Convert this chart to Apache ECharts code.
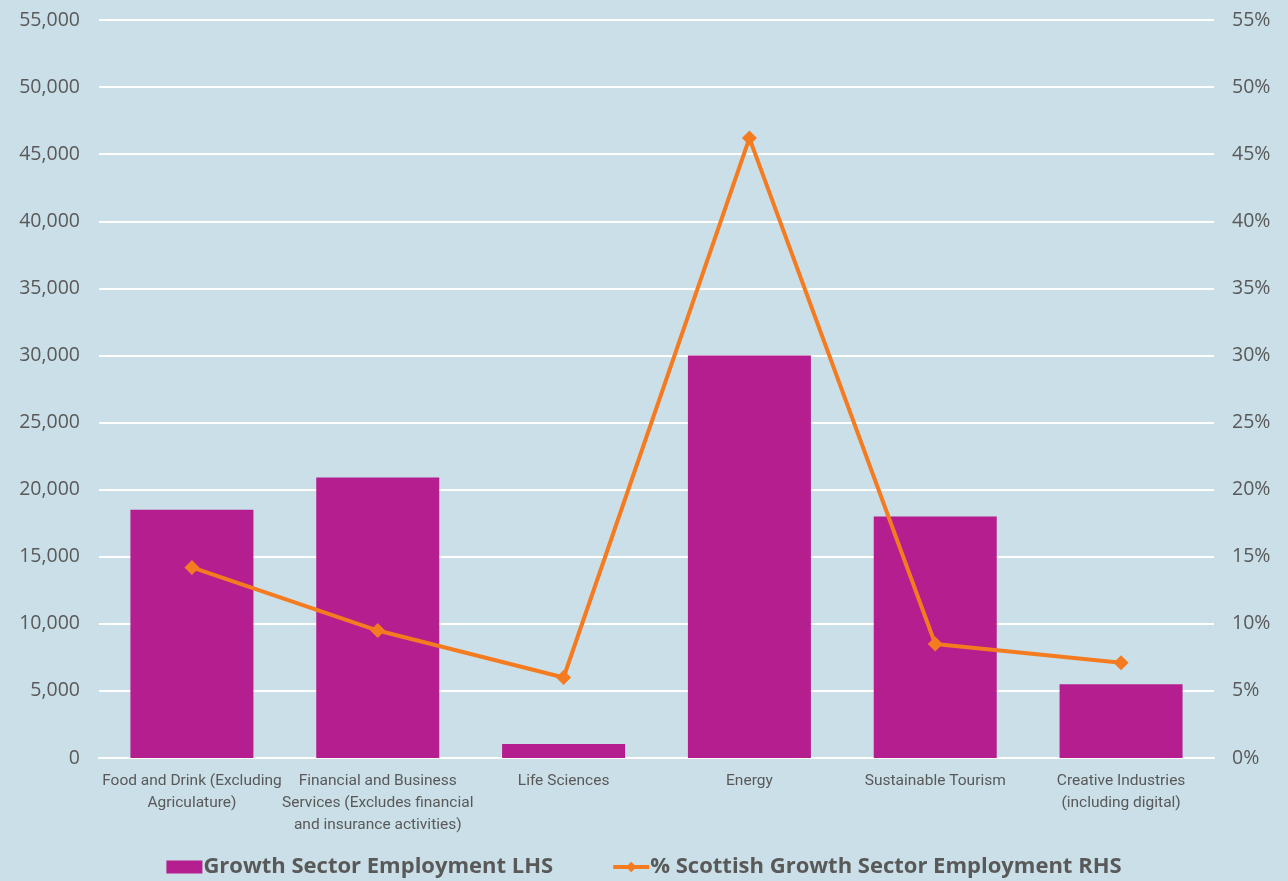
<!DOCTYPE html>
<html>
<head>
<meta charset="utf-8">
<script src="https://cdn.jsdelivr.net/npm/echarts@6/dist/echarts.min.js"></script>
<style>
  html, body { margin: 0; padding: 0; background: #cadfe7; }
  #chart { width: 1288px; height: 881px; }
</style>
</head>
<body>
<div id="chart"></div>
<script>
const categories = [
  'Food and Drink (Excluding\nAgriculature)',
  'Financial and Business\nServices (Excludes financial\nand insurance activities)',
  'Life Sciences',
  'Energy',
  'Sustainable Tourism',
  'Creative Industries\n(including digital)'
];
const employment = [18500, 20900, 1050, 30000, 18000, 5500];
const employmentPct = [14.2, 9.5, 6.0, 46.2, 8.5, 7.1];

const textColor = '#595959';

const chart = echarts.init(document.getElementById('chart'));
chart.setOption({
  backgroundColor: '#cadfe7',
  textStyle: { fontFamily: 'Roboto' },
  grid: { left: 99, right: 74, top: 20, bottom: 123, containLabel: false },
  legend: {
    bottom: -2,
    left: 'center',
    itemGap: 58,
    itemWidth: 36,
    itemHeight: 13,
    textStyle: { color: textColor, fontSize: 22, fontWeight: 'bold', fontFamily: 'Open Sans', padding: [0, 0, 0, -4] },
    data: [
      { name: 'Growth Sector Employment LHS', icon: 'rect' },
      { name: '% Scottish Growth Sector Employment RHS', lineStyle: { width: 4 } }
    ]
  },
  xAxis: {
    type: 'category',
    data: categories,
    axisLine: { lineStyle: { color: '#ffffff', width: 2 } },
    axisTick: { show: false },
    axisLabel: { color: textColor, fontSize: 15.5, lineHeight: 22, margin: 12, interval: 0 }
  },
  yAxis: [
    {
      type: 'value',
      min: 0, max: 55000, interval: 5000,
      axisLine: { show: false },
      axisTick: { show: false },
      splitLine: { lineStyle: { color: '#ffffff', width: 2 } },
      axisLabel: {
        color: textColor, fontSize: 19.5, fontFamily: 'Open Sans', margin: 19,
        formatter: v => v.toLocaleString('en-US')
      }
    },
    {
      type: 'value',
      min: 0, max: 55, interval: 5,
      axisLine: { show: false },
      axisTick: { show: false },
      splitLine: { show: false },
      axisLabel: { color: textColor, fontSize: 19.5, fontFamily: 'Open Sans', margin: 18, formatter: '{value}%' }
    }
  ],
  series: [
    {
      name: 'Growth Sector Employment LHS',
      type: 'bar',
      data: employment,
      barWidth: 123,
      itemStyle: { color: '#b41e8e' }
    },
    {
      name: '% Scottish Growth Sector Employment RHS',
      type: 'line',
      yAxisIndex: 1,
      data: employmentPct,
      symbol: 'diamond',
      symbolSize: 15,
      lineStyle: { color: '#f47b20', width: 4 },
      itemStyle: { color: '#f47b20' }
    }
  ]
});
</script>
</body>
</html>
